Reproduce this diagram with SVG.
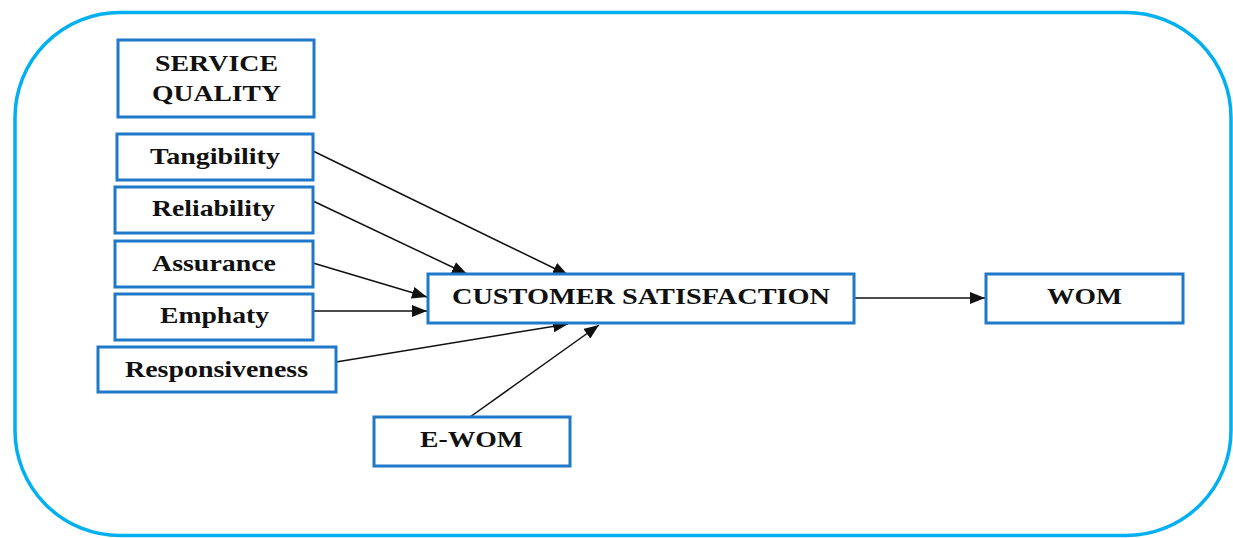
<svg xmlns="http://www.w3.org/2000/svg" width="1233" height="538" viewBox="0 0 1233 538">
<style>
.box{fill:#ffffff;stroke:#1f78c8;stroke-width:3}
.lbl{font-family:"Liberation Serif","Times New Roman",serif;font-weight:bold;font-size:24px;fill:#111111}
.conn{stroke:#111111;stroke-width:1.5;fill:none;marker-end:url(#ah)}
</style>
<defs>
<marker id="ah" markerUnits="userSpaceOnUse" markerWidth="16" markerHeight="12" refX="15" refY="6" orient="auto">
<path d="M0,0 L15,6 L0,12 Z" fill="#111111"/>
</marker>
</defs>
<rect x="0" y="0" width="1233" height="538" fill="#ffffff"/>
<rect id="frame" x="15" y="12.5" width="1216" height="523" rx="105" ry="105" fill="none" stroke="#00b0f0" stroke-width="3.5"/>
<g id="connectors">
<line class="conn" x1="313" y1="151" x2="568" y2="275"/>
<line class="conn" x1="313" y1="201" x2="467" y2="274"/>
<line class="conn" x1="313" y1="263" x2="427" y2="297"/>
<line class="conn" x1="313" y1="311" x2="427" y2="311"/>
<line class="conn" x1="336" y1="362" x2="568" y2="324"/>
<line class="conn" x1="470" y1="417" x2="599" y2="325"/>
<line class="conn" x1="854" y1="298" x2="985" y2="298"/>
</g>
<g id="service-quality">
<rect class="box" x="118" y="40" width="196" height="77"/>
<text class="lbl" x="155" y="71" textLength="123" lengthAdjust="spacingAndGlyphs">SERVICE</text>
<text class="lbl" x="152" y="101" textLength="129" lengthAdjust="spacingAndGlyphs">QUALITY</text>
</g>
<g id="tangibility">
<rect class="box" x="117" y="134" width="196" height="46"/>
<text class="lbl" x="150" y="164" textLength="130" lengthAdjust="spacingAndGlyphs">Tangibility</text>
</g>
<g id="reliability">
<rect class="box" x="115" y="187" width="198" height="46"/>
<text class="lbl" x="152" y="216" textLength="123" lengthAdjust="spacingAndGlyphs">Reliability</text>
</g>
<g id="assurance">
<rect class="box" x="115" y="241" width="198" height="46"/>
<text class="lbl" x="152" y="271" textLength="124" lengthAdjust="spacingAndGlyphs">Assurance</text>
</g>
<g id="emphaty">
<rect class="box" x="115" y="294" width="198" height="46"/>
<text class="lbl" x="160" y="323" textLength="109" lengthAdjust="spacingAndGlyphs">Emphaty</text>
</g>
<g id="responsiveness">
<rect class="box" x="98" y="347" width="238" height="45"/>
<text class="lbl" x="125" y="377" textLength="183" lengthAdjust="spacingAndGlyphs">Responsiveness</text>
</g>
<g id="customer-satisfaction">
<rect class="box" x="428" y="274" width="426" height="49"/>
<text class="lbl" x="452" y="304" textLength="378" lengthAdjust="spacingAndGlyphs">CUSTOMER SATISFACTION</text>
</g>
<g id="e-wom">
<rect class="box" x="374" y="417" width="196" height="49"/>
<text class="lbl" x="420" y="447" textLength="103" lengthAdjust="spacingAndGlyphs">E-WOM</text>
</g>
<g id="wom">
<rect class="box" x="986" y="274" width="197" height="49"/>
<text class="lbl" x="1047" y="304" textLength="75" lengthAdjust="spacingAndGlyphs">WOM</text>
</g>
</svg>
